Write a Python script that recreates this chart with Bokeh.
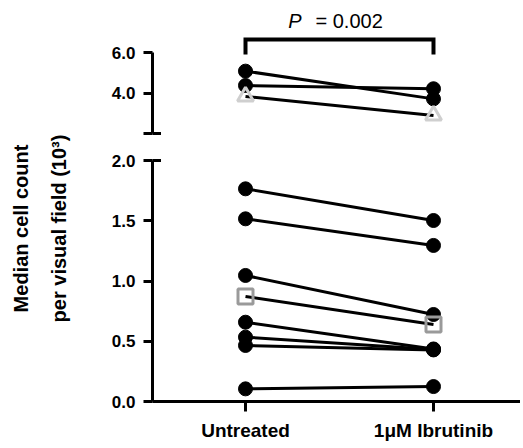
import math
from bokeh.plotting import figure
from bokeh.models import (Range1d, FixedTicker, NumeralTickFormatter, Label,
                          Whisker, TeeHead)
from bokeh.layouts import row, column
from bokeh.embed import file_html
from bokeh.resources import INLINE

# ---------------- data (values in 10^3 cells) ----------------
groups = ["Untreated", "1\u03bcM Ibrutinib"]
low_untreated = [1.765, 1.516, 1.046, 0.658, 0.534, 0.465, 0.105]
low_ibrutinib = [1.502, 1.295, 0.722, 0.436, 0.432, 0.428, 0.124]
square_pair = [0.871, 0.639]          # grey square sample
high_untreated = [5.08, 4.37]
high_ibrutinib = [3.71, 4.21]
triangle_pair = [3.83, 2.89]          # grey triangle sample
low_ticks = [0.0, 0.5, 1.0, 1.5, 2.0]
high_ticks = [2.0, 4.0, 6.0]
high_hidden_labels = {2.0: ""}
low_limits = (0.0, 2.0)
high_limits = (2.0, 6.0)
p_value_text = "= 0.002"

# ---------------- style / layout ----------------
FONT = "Liberation Sans"
BLACK = "#000000"
SQUARE_GREY = "#9a9a9a"
TRI_GREY = "#cfcfcf"
LW = 3

xs = list(range(len(groups)))
x_range = Range1d(-0.4947, 1.4628)

TITLE_W = 80
LEFT = 72
COL_W = 440
TOP_H = 142
BOT_H = 304


def style_yaxis(p, ticks, limits, overrides=None):
    ax = p.yaxis[0]
    ax.ticker = FixedTicker(ticks=ticks)
    ax.formatter = NumeralTickFormatter(format="0.0")
    if overrides:
        ax.major_label_overrides = overrides
    ax.bounds = limits
    ax.axis_line_width = LW
    ax.major_tick_line_width = LW
    ax.major_tick_out = 9
    ax.major_tick_in = 0
    ax.minor_tick_line_color = None
    ax.major_label_standoff = 8
    ax.major_label_text_font = FONT
    ax.major_label_text_font_style = "bold"
    ax.major_label_text_font_size = "17px"
    ax.major_label_text_color = BLACK


def cap(p, y):
    # inner half of the end cap of a broken axis segment
    p.add_layout(Whisker(base=x_range.start, lower=y, upper=y, dimension="height",
                         line_width=LW, line_color=BLACK,
                         upper_head=TeeHead(size=17, line_width=LW, line_color=BLACK),
                         lower_head=None))


def base_fig(h, **kw):
    p = figure(width=COL_W, height=h, x_range=x_range, output_backend="svg",
               toolbar_location=None, title=None, **kw)
    p.grid.visible = False
    p.outline_line_color = None
    p.min_border_left = LEFT
    p.min_border_right = 0
    p.min_border_top = 0
    p.background_fill_color = "white"
    p.border_fill_color = "white"
    return p


# ---------------- top (broken) segment ----------------
ppu_top = 20.25
top = base_fig(TOP_H, x_axis_location=None,
               y_range=Range1d(2.0 - 9 / ppu_top, 2.0 + 133 / ppu_top))
top.min_border_bottom = 0
style_yaxis(top, high_ticks, high_limits, high_hidden_labels)
cap(top, high_limits[0])

top.multi_line(xs=[xs] * len(high_untreated),
               ys=[[u, i] for u, i in zip(high_untreated, high_ibrutinib)],
               line_color=BLACK, line_width=LW)
top.multi_line(xs=[xs], ys=[triangle_pair], line_color=BLACK, line_width=LW)
top.scatter(x=[xs[0]] * len(high_untreated) + [xs[1]] * len(high_ibrutinib),
            y=high_untreated + high_ibrutinib, size=14,
            fill_color=BLACK, line_color=BLACK)
top.scatter(x=xs, y=triangle_pair, marker="triangle", size=16,
            fill_color=None, line_color=TRI_GREY, line_width=LW)

# significance bracket
bracket_top, bracket_foot = 6.64, 5.90
top.line(x=[xs[0], xs[0], xs[1], xs[1]],
         y=[bracket_foot, bracket_top, bracket_top, bracket_foot],
         line_width=4, line_color=BLACK, line_join="miter")
mid = (xs[0] + xs[1]) / 2
top.add_layout(Label(x=mid, y=7.58, text="P", text_align="right",
                     text_baseline="middle", x_offset=-38,
                     text_font=FONT, text_font_style="italic",
                     text_font_size="20px", text_color=BLACK))
top.add_layout(Label(x=mid, y=7.58, text=p_value_text, text_align="left",
                     text_baseline="middle", x_offset=-24,
                     text_font=FONT, text_font_size="20px", text_color=BLACK))

# ---------------- bottom segment ----------------
ppu_bot = 120.5
bot = base_fig(BOT_H, y_range=Range1d(0.0, 259 / ppu_bot))
bot.min_border_bottom = BOT_H - 259
style_yaxis(bot, low_ticks, low_limits)
cap(bot, low_limits[1])

xa = bot.xaxis[0]
xa.ticker = FixedTicker(ticks=xs)
xa.major_label_overrides = {i: g for i, g in zip(xs, groups)}
xa.axis_line_width = LW
xa.major_tick_line_width = LW
xa.major_tick_out = 10
xa.major_tick_in = 0
xa.minor_tick_line_color = None
xa.major_label_standoff = 8
xa.major_label_text_font = FONT
xa.major_label_text_font_style = "bold"
xa.major_label_text_font_size = "19px"
xa.major_label_text_color = BLACK

bot.multi_line(xs=[xs] * len(low_untreated),
               ys=[[u, i] for u, i in zip(low_untreated, low_ibrutinib)],
               line_color=BLACK, line_width=LW)
bot.multi_line(xs=[xs], ys=[square_pair], line_color=BLACK, line_width=LW)
bot.scatter(x=[xs[0]] * len(low_untreated) + [xs[1]] * len(low_ibrutinib),
            y=low_untreated + low_ibrutinib, size=14,
            fill_color=BLACK, line_color=BLACK)
bot.scatter(x=xs, y=square_pair, marker="square", size=15,
            fill_color=None, line_color=SQUARE_GREY, line_width=LW)

# ---------------- y-axis title ----------------
H = TOP_H + BOT_H
tfig = figure(width=TITLE_W, height=H, x_range=Range1d(0, TITLE_W),
              y_range=Range1d(0, H), output_backend="svg",
              toolbar_location=None, title=None,
              x_axis_location=None, y_axis_location=None)
tfig.grid.visible = False
tfig.outline_line_color = None
tfig.min_border = 0
for xpos, txt in [(20, "Median cell count"), (58, "per visual field (10\u00b3)")]:
    tfig.add_layout(Label(x=xpos, y=H - 228, text=txt, angle=math.pi / 2,
                          text_align="center", text_baseline="middle",
                          text_font=FONT, text_font_style="bold",
                          text_font_size="20px", text_color=BLACK))

layout = row(tfig, column(top, bot))
open("out.html", "w").write(file_html(layout, INLINE))
